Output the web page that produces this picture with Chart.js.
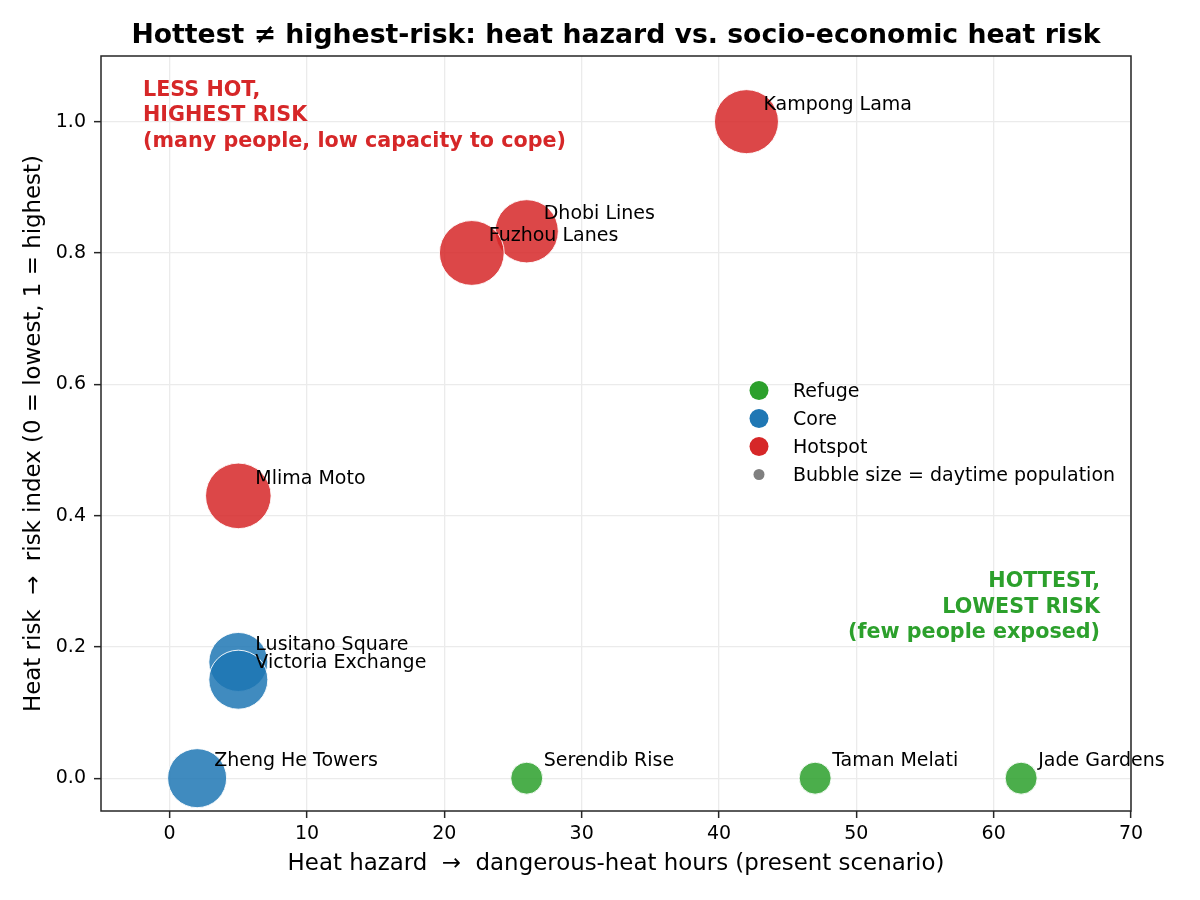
<!DOCTYPE html>
<html>
<head>
<meta charset="utf-8">
<script src="https://cdn.jsdelivr.net/npm/chart.js@4.4.1/dist/chart.umd.min.js"></script>
<style>
  html, body { margin: 0; padding: 0; background: #fff; }
  canvas { display: block; }
</style>
</head>
<body>
<canvas id="chart" width="1200" height="900"></canvas>
<script>
// neighbourhoods
const places = ["Kampong Lama", "Dhobi Lines", "Fuzhou Lanes", "Mlima Moto",
  "Lusitano Square", "Victoria Exchange", "Zheng He Towers",
  "Serendib Rise", "Taman Melati", "Jade Gardens"];
const heatHours = [42, 26, 22, 5, 5, 5, 2, 26, 47, 62];
const riskIndex = [1.0, 0.833, 0.80, 0.43, 0.177, 0.15, 0.0, 0.0, 0.0, 0.0];
const daytimePop = [40000, 39000, 41000, 42000, 34000, 34000, 34000, 10000, 10000, 10000];
const groupOf = ["Hotspot", "Hotspot", "Hotspot", "Hotspot", "Core", "Core", "Core",
  "Refuge", "Refuge", "Refuge"];
const groupNames = ["Refuge", "Core", "Hotspot"];
const xTicks = [0, 10, 20, 30, 40, 50, 60, 70];
const yTicks = [0.0, 0.2, 0.4, 0.6, 0.8, 1.0];

const COLORS = { Refuge: "#2ca02c", Core: "#1f77b4", Hotspot: "#d62728" };
const FONT = "DejaVu Sans";
const INK = "#262626";

function hexToRgba(hex, alpha = 1) {
  const num = parseInt(hex.slice(1), 16);
  return `rgba(${(num >> 16) & 255},${(num >> 8) & 255},${num & 255},${alpha})`;
}

// bubble radius in px from population (area ~ population)
const popToRadius = (p) => 0.16 * Math.sqrt(p);

const datasets = groupNames.map((g) => ({
  label: g,
  data: places
    .map((name, i) => ({ x: heatHours[i], y: riskIndex[i], r: popToRadius(daytimePop[i]), name, g: groupOf[i] }))
    .filter((d) => d.g === g),
  backgroundColor: hexToRgba(COLORS[g], 0.85),
  borderColor: "rgba(255,255,255,0.9)",
  borderWidth: 1
}));

const decorations = {
  id: "decorations",
  afterDatasetsDraw(chart) {
    const { ctx, chartArea: a, scales } = chart;
    ctx.save();
    // point labels
    ctx.fillStyle = "#000";
    ctx.font = `19px '${FONT}'`;
    ctx.textAlign = "left";
    ctx.textBaseline = "alphabetic";
    places.forEach((name, i) => {
      const px = scales.x.getPixelForValue(heatHours[i]);
      const py = scales.y.getPixelForValue(riskIndex[i]);
      ctx.fillText(name, px + 17, py - 12);
    });

    // quadrant notes
    ctx.font = `bold 20.7px '${FONT}'`;
    ctx.fillStyle = COLORS.Hotspot;
    ["LESS HOT,", "HIGHEST RISK", "(many people, low capacity to cope)"].forEach((t, k) => {
      ctx.fillText(t, a.left + 42, a.top + 40 + k * 25.3);
    });
    ctx.textAlign = "right";
    ctx.fillStyle = COLORS.Refuge;
    ["HOTTEST,", "LOWEST RISK", "(few people exposed)"].forEach((t, k) => {
      ctx.fillText(t, a.right - 31, a.top + 531 + k * 25.6);
    });

    // legend
    const lx = 759, ly = 390.5, step = 28;
    ctx.textAlign = "left";
    ctx.font = `19px '${FONT}'`;
    groupNames.forEach((g, k) => {
      ctx.beginPath();
      ctx.arc(lx, ly + k * step, 9.5, 0, Math.PI * 2);
      ctx.fillStyle = COLORS[g];
      ctx.fill();
      ctx.fillStyle = "#000";
      ctx.fillText(g, 793, ly + k * step + 6.5);
    });
    ctx.beginPath();
    ctx.arc(lx, ly + 3 * step, 5.5, 0, Math.PI * 2);
    ctx.fillStyle = "#808080";
    ctx.fill();
    ctx.fillStyle = "#000";
    ctx.fillText("Bubble size = daytime population", 793, ly + 3 * step + 6.5);

    // frame
    ctx.strokeStyle = INK;
    ctx.lineWidth = 1.5;
    ctx.strokeRect(a.left, a.top, a.right - a.left, a.bottom - a.top);

    // title and axis titles
    const cx = (a.left + a.right) / 2;
    ctx.fillStyle = "#000";
    ctx.textAlign = "center";
    ctx.font = `bold 26.7px '${FONT}'`;
    ctx.fillText("Hottest \u2260 highest-risk: heat hazard vs. socio-economic heat risk", cx, 43);
    ctx.font = `22.9px '${FONT}'`;
    ctx.textBaseline = "middle";
    ctx.fillText("Heat hazard  \u2192  dangerous-heat hours (present scenario)", cx, 864);
    ctx.translate(34, (a.top + a.bottom) / 2);
    ctx.rotate(-Math.PI / 2);
    ctx.fillText("Heat risk  \u2192  risk index (0 = lowest, 1 = highest)", 0, 0);
    ctx.restore();
  }
};

const tickFont = { family: FONT, size: 19 };
const gridOpts = { color: "#ebebeb", lineWidth: 1.3, tickLength: 7, tickColor: INK, tickWidth: 1.5 };

new Chart(document.getElementById("chart"), {
  type: "bubble",
  data: { datasets },
  options: {
    responsive: false,
    animation: false,
    events: [],
    layout: { padding: { top: 56, right: 69, left: 0, bottom: 0 } },
    plugins: { legend: { display: false }, tooltip: { enabled: false }, title: { display: false } },
    scales: {
      x: {
        type: "linear",
        min: -5,
        max: 70,
        afterBuildTicks: (s) => { s.ticks = xTicks.map((v) => ({ value: v })); },
        afterFit: (s) => { s.height = 89; },
        ticks: { font: tickFont, color: "#000", padding: 5, callback: (v) => String(v) },
        grid: gridOpts,
        border: { display: false }
      },
      y: {
        type: "linear",
        min: -0.05,
        max: 1.1,
        afterBuildTicks: (s) => { s.ticks = yTicks.map((v) => ({ value: v })); },
        afterFit: (s) => { s.width = 101; },
        ticks: { font: tickFont, color: "#000", padding: 8, callback: (v) => v.toFixed(1) },
        grid: gridOpts,
        border: { display: false }
      }
    }
  },
  plugins: [decorations]
});
</script>
</body>
</html>
